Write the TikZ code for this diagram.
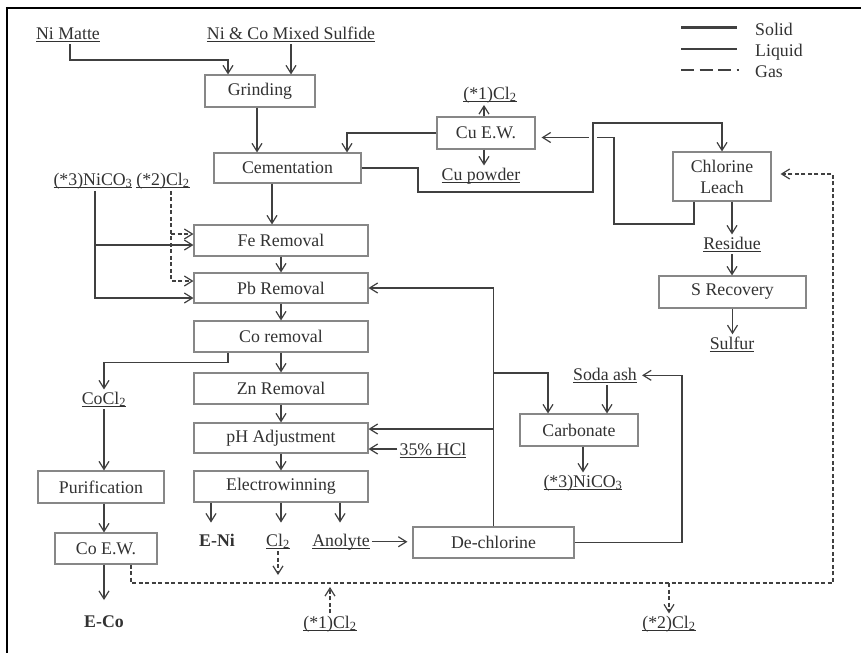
\documentclass[tikz,border=0pt]{standalone}
\usepackage{fontspec}
\setmainfont{Liberation Serif}
\usetikzlibrary{arrows.meta}
\definecolor{ink}{RGB}{50,50,50}
\definecolor{flow}{RGB}{64,64,64}
\definecolor{boxline}{RGB}{135,135,135}
% underlined label with a fixed underline depth (subscripts cross it)
\newcommand\ulinetext[1]{\setbox0\hbox{#1}\rlap{\rule[-3pt]{\wd0}{0.9pt}}\box0}
\begin{document}
\begin{tikzpicture}[x=1pt,y=-1pt,
  font=\fontsize{17.8}{21}\selectfont, text=ink,
  box/.style={draw=boxline, line width=1.1pt, inner sep=0pt, align=center},
  lbl/.style={inner sep=2pt, anchor=base},
  flowline/.style={draw=flow, line width=1.2pt},
  arr/.style={flowline, -{Straight Barb[length=8pt,width=10pt]}},
  gas/.style={dash pattern=on 4pt off 2.5pt},
]
\useasboundingbox (0,0) rectangle (861,653);
\fill[white] (0,0) rectangle (861,653);

% frame
\draw[line width=2.5pt, black] (5.75,8) -- (861,8);
\draw[line width=2.5pt, black] (7,6.75) -- (7,653);

% legend
\draw[flowline, line width=3pt] (681,27) -- (737,27);
\draw[flowline, line width=2pt] (681,49) -- (737,49);
\draw[flowline, line width=2pt, dash pattern=on 13pt off 5.5pt] (681,70) -- (739,70);
\node[lbl, anchor=base west] (lsolid) at (753,35) {Solid};
\node[lbl, anchor=base west] (lliquid) at (753,56) {Liquid};
\node[lbl, anchor=base west] (lgas) at (753,77) {Gas};

% process boxes
\node[box, minimum width=110pt, minimum height=32pt] (grind) at (260,91) {Grinding};
\node[box, minimum width=147pt, minimum height=30pt] (cem) at (287.5,168) {Cementation};
\node[box, minimum width=98pt, minimum height=32pt] (cuew) at (486,133) {Cu E.W.};
\node[box, minimum width=98pt, minimum height=49pt] (leach) at (722,176.5) {Chlorine\\Leach};
\node[box, minimum width=147pt, minimum height=32pt] (srec) at (732.5,292) {S Recovery};
\node[box, minimum width=174pt, minimum height=31pt] (fe) at (281,240.5) {Fe Removal};
\node[box, minimum width=174pt, minimum height=30pt] (pb) at (281,288) {Pb Removal};
\node[box, minimum width=174pt, minimum height=31pt] (co) at (281,336.5) {Co removal};
\node[box, minimum width=174pt, minimum height=31pt] (zn) at (281,388.5) {Zn Removal};
\node[box, minimum width=174pt, minimum height=30pt] (ph) at (281,438) {pH Adjustment};
\node[box, minimum width=174pt, minimum height=31pt] (ew) at (281,486.5) {Electrowinning};
\node[box, minimum width=126pt, minimum height=32pt] (purif) at (101,487) {Purification};
\node[box, minimum width=102pt, minimum height=31pt] (coew) at (106,548.5) {Co E.W.};
\node[box, minimum width=161pt, minimum height=31pt] (dechl) at (493.5,542.5) {De-chlorine};
\node[box, minimum width=118pt, minimum height=32pt] (carb) at (579,430) {Carbonate};

% stream labels
\node[lbl] (nimatte) at (68,39) {\ulinetext{Ni Matte}};
\node[lbl] (mixed) at (291,39) {\ulinetext{Ni \& Co Mixed Sulfide}};
\node[lbl] (cltop) at (490,99) {\ulinetext{(*1)Cl\textsubscript{2}}};
\node[lbl] (cupow) at (481,180) {\ulinetext{Cu powder}};
\node[lbl] (resid) at (732,249) {\ulinetext{Residue}};
\node[lbl] (sulf) at (732,349) {\ulinetext{Sulfur}};
\node[lbl] (nicoL) at (93,185) {\ulinetext{(*3)NiCO\textsubscript{3}}};
\node[lbl] (clL) at (163,185) {\ulinetext{(*2)Cl\textsubscript{2}}};
\node[lbl] (cocl) at (104,404) {\ulinetext{CoCl\textsubscript{2}}};
\node[lbl] (soda) at (605,380) {\ulinetext{Soda ash}};
\node[lbl] (nicoR) at (583,487) {\ulinetext{(*3)NiCO\textsubscript{3}}};
\node[lbl] (hcl) at (433,455) {\ulinetext{35\% HCl}};
\node[lbl] (eni) at (217,546) {\textbf{E-Ni}};
\node[lbl] (clew) at (278,546) {\ulinetext{Cl\textsubscript{2}}};
\node[lbl] (anol) at (341,546) {\ulinetext{Anolyte}};
\node[lbl] (eco) at (104,627) {\textbf{E-Co}};
\node[lbl] (clbot1) at (330,628) {\ulinetext{(*1)Cl\textsubscript{2}}};
\node[lbl] (clbot2) at (669,628) {\ulinetext{(*2)Cl\textsubscript{2}}};

% feeds to grinding
\coordinate (nmx) at ([xshift=2pt]nimatte.south);
\coordinate (nmturn) at (228,60);
\draw[arr] (nmx) |- (nmturn) -- (nmturn |- grind.north);
\draw[arr] (mixed.south) -- (mixed.south |- grind.north);

% grinding to cementation
\coordinate (g1) at ([xshift=-3pt]grind.south);
\draw[arr] (g1) -- (g1 |- cem.north);

% Cu E.W. products and return to cementation
\coordinate (c1) at ([xshift=59.5pt]cem.north);
\draw[arr] (cuew.west) -| (c1);
\coordinate (cu1) at ([xshift=-2pt]cuew.north);
\draw[arr] (cu1) -- (cu1 |- cltop.south);
\coordinate (cu2) at ([xshift=-2pt]cuew.south);
\draw[arr] (cu2) -- (cu2 |- cupow.north);

% leach liquor to Cu E.W. (broken where the solid line crosses it)
\coordinate (lq) at ([xshift=-28pt]leach.south);
\coordinate (lqin) at ([xshift=6pt,yshift=-4.5pt]cuew.east);
\draw[arr] (lq) |- (614,224) |- (lqin);
\fill[white] (589,134) rectangle (597,142);
% cementation residue to chlorine leach
\draw[arr] (cem.east) -| (418,192) -| (593,123) -| (leach.north);

% leach residue and sulfur recovery
\draw[arr] (resid.north |- leach.south) -- (resid.north);
\draw[arr] (resid.south) -- (resid.south |- srec.north);
\draw[arr] (srec.south) -- (srec.south |- sulf.north);

% chlorine gas loop
\coordinate (gasR) at (833,583);
\coordinate (gasL) at ([xshift=25pt]coew.south);
\coordinate (clin) at ([xshift=9pt,yshift=2.5pt]leach.east);
\draw[arr, gas] (gasL) |- (gasR) |- (clin);
\coordinate (gup) at (clbot1.north |- gasR);
\draw[arr, gas] (clbot1.north) -- ([yshift=-4pt]gup);
\draw[arr, gas] (clbot2.north |- gasR) -- (clbot2.north);
\coordinate (ewclout) at (280,575);
\draw[arr, gas] (clew.south) -- (clew.south |- ewclout);

% NiCO3 and Cl2 additions to Fe / Pb removal
\coordinate (nx) at ([xshift=2pt]nicoL.south);
\coordinate (fein) at ([yshift=-4.5pt]fe.west);
\coordinate (pbin) at ([yshift=-10pt]pb.west);
\draw[arr] (nx) |- (pbin);
\draw[arr] (nx |- fein) -- (fein);
\coordinate (cx) at ([xshift=8pt]clL.south);
\coordinate (fegas) at ([yshift=6.5pt]fe.west);
\coordinate (pbgas) at ([yshift=7pt]pb.west);
\draw[arr, gas] (cx) |- (pbgas);
\draw[arr, gas] (cx |- fegas) -- (fegas);

% main purification train
\coordinate (cm) at ([xshift=-15.5pt]cem.south);
\draw[arr] (cm) -- (cm |- fe.north);
\draw[arr] (fe.south) -- (pb.north);
\draw[arr] (pb.south) -- (co.north);
\draw[arr] (co.south) -- (zn.north);
\draw[arr] (zn.south) -- (ph.north);
\draw[arr] (ph.south) -- (ew.north);

% cobalt branch
\coordinate (cs) at ([xshift=-53pt]co.south);
\draw[arr] (cs) -- ++(0,10) -| (cocl.north);
\draw[arr] (cocl.south) -- (cocl.south |- purif.north);
\coordinate (px) at ([xshift=3pt]purif.south);
\draw[arr] (px) -- (px |- coew.north);
\draw[arr] (eco.north |- coew.south) -- ([yshift=13pt]eco.north);

% electrowinning products
\coordinate (e1) at ([xshift=-70pt]ew.south);
\coordinate (e3) at ([xshift=59pt]ew.south);
\draw[arr] (e1) -- ++(0,20);
\draw[arr] (ew.south) -- ++(0,20);
\draw[arr] (e3) -- ++(0,20);
\draw[arr, shorten >=5pt] (anol.east) -- (anol.east -| dechl.west);

% de-chlorinated solution recycle
\coordinate (dn) at (dechl.north);
\draw[arr] (dn) |- (pb.east);
\coordinate (phin) at ([yshift=9pt]ph.east);
\draw[arr] (dn |- phin) -- (phin);
\coordinate (cbin) at ([xshift=-31pt]carb.north);
\coordinate (cbrow) at (0,373);
\draw[arr] (dn |- cbrow) -| (cbin);

% HCl make-up
\coordinate (hclin) at ([yshift=-11pt]ph.east);
\draw[arr] (hcl.west |- hclin) -- (hclin);

% carbonate circuit
\coordinate (sx) at ([xshift=2pt]soda.south);
\draw[arr] (sx) -- (sx |- carb.north);
\coordinate (sodain) at ([xshift=3pt]soda.east);
\coordinate (rc) at (682,0);
\draw[arr] (dechl.east) -| (rc |- sodain) -- (sodain);
\coordinate (cbx) at ([xshift=4pt]carb.south);
\draw[arr] (cbx) -- (cbx |- nicoR.north);
\end{tikzpicture}
\end{document}
